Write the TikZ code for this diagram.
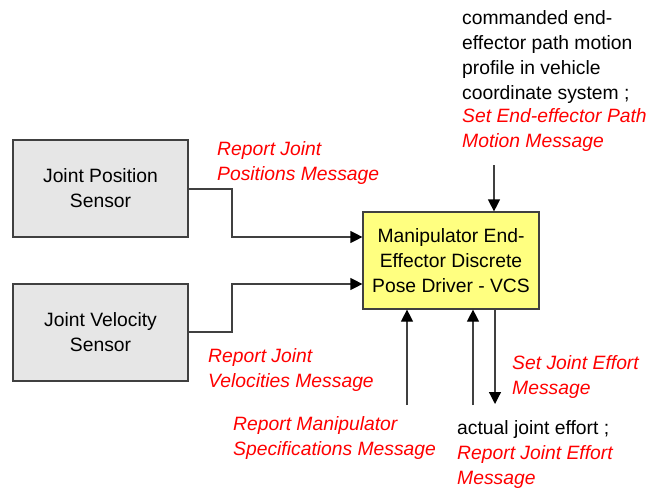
\documentclass[tikz,border=0pt]{standalone}
\usepackage{fontspec}
\setmainfont{Liberation Sans}
\usetikzlibrary{arrows.meta}
\definecolor{boxgray}{HTML}{E6E6E6}
\definecolor{boxyellow}{HTML}{FFFF80}
\definecolor{edgegray}{HTML}{404040}
\definecolor{msgred}{HTML}{FF0000}
\tikzset{
  every node/.style={font=\fontsize{19.3}{25}\selectfont},
  sensor/.style={draw=edgegray, line width=1.2pt, fill=boxgray, minimum width=175pt, minimum height=97pt, align=center, inner sep=0pt},
  driver/.style={draw=edgegray, line width=1.2pt, fill=boxyellow, minimum width=176pt, minimum height=97pt, align=center, inner sep=0pt},
  msg/.style={anchor=north west, inner sep=0pt, align=left, text=msgred, font=\fontsize{19.3}{25}\selectfont\itshape},
  plain/.style={anchor=north west, inner sep=0pt, align=left},
  conn/.style={draw=edgegray, line width=1.2pt, -{Triangle[length=12pt,width=12pt,color=black]}},
}
\begin{document}
\begin{tikzpicture}[x=1pt,y=-1pt]
\useasboundingbox (0,0) rectangle (652,489);
\node[sensor] (jps) at (100.5,188.5) {Joint Position\\Sensor};
\node[sensor] (jvs) at (100.5,332.5) {Joint Velocity\\Sensor};
\node[driver] (drv) at (451,260.5) {Manipulator End-\\Effector Discrete\\Pose Driver - VCS};

\coordinate (topin) at (494,165);
\coordinate (rmsrc) at (407,405);
\coordinate (jesrc) at (473,405);
\coordinate (jedst) at (495,404);

\draw[conn] (jps.east |- 0,189) -| (232,237) -- (drv.west |- 0,237);
\draw[conn] (jvs.east |- 0,332) -| (232,284) -- (drv.west |- 0,284);
\draw[conn] (topin) -- (drv.north -| topin);
\draw[conn] (rmsrc) -- (drv.south -| rmsrc);
\draw[conn] (jesrc) -- (drv.south -| jesrc);
\draw[conn] (drv.south -| jedst) -- (jedst);

\node[msg] (l1) at (217,141) {Report Joint\\Positions Message};
\node[plain] (l2) at (462,10) {commanded end-\\effector path motion\\profile in vehicle\\coordinate system ;\\[-1.5pt]\textcolor{msgred}{\itshape Set End-effector Path}\\\textcolor{msgred}{\itshape Motion Message}};
\node[msg] (l3) at (208,348) {Report Joint\\Velocities Message};
\node[msg] (l4) at (233,416) {Report Manipulator\\Specifications Message};
\node[msg] (l5) at (512,355) {Set Joint Effort\\Message};
\node[plain] (l6) at (457,420) {actual joint effort ;\\\textcolor{msgred}{\itshape Report Joint Effort}\\\textcolor{msgred}{\itshape Message}};
\end{tikzpicture}
\end{document}
